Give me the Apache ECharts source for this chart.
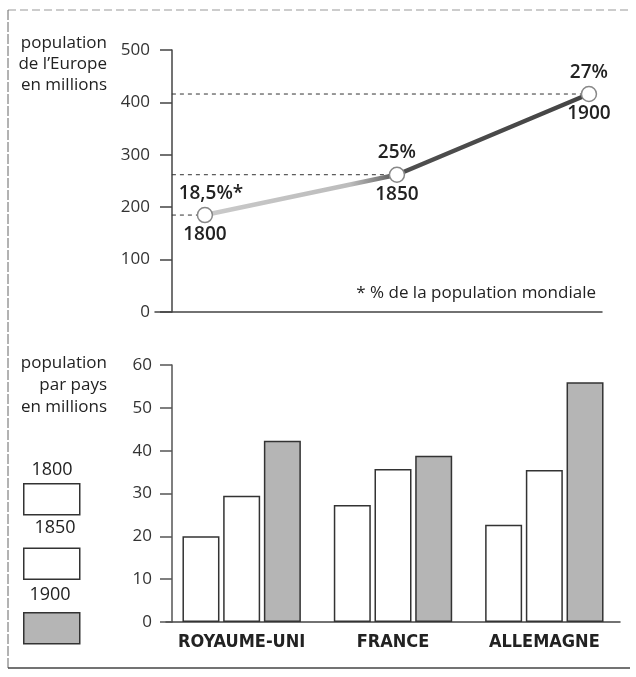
<!DOCTYPE html>
<html>
<head>
<meta charset="utf-8">
<script src="https://cdn.jsdelivr.net/npm/echarts@6/dist/echarts.min.js"></script>
<style>
html,body{margin:0;padding:0;background:#fff;}
#chart{width:636px;height:677px;}
</style>
</head>
<body>
<div id="chart"></div>
<script>
// ---- Data ----
const years = [1800, 1850, 1900];
const europePop = [185, 262, 416];
const worldShare = ['18,5%*', '25%', '27%'];
const countries = ['ROYAUME-UNI', 'FRANCE', 'ALLEMAGNE'];
const pop1800 = [20, 27.3, 22.7];
const pop1850 = [29.5, 35.7, 35.5];
const pop1900 = [42.3, 38.8, 56];
const barYears = ['1800', '1850', '1900'];
const topTicks = [0, 100, 200, 300, 400, 500];
const bottomTicks = [0, 10, 20, 30, 40, 50, 60];

const FONT = '"Open Sans", "Noto Sans", sans-serif';
const NARROW = '"DejaVu Sans Condensed", "Open Sans", sans-serif';

const xMin = 1787, xMax = 1903.4, yAxisYear = 1791.4;

const chart = echarts.init(document.getElementById('chart'));

const dashSeries = years.map((y, i) => ({
  type: 'line', xAxisIndex: 0, yAxisIndex: 0,
  data: [[yAxisYear, europePop[i]], [y, europePop[i]]],
  symbol: 'none', silent: true, z: 1,
  lineStyle: { color: '#333', width: 1, type: [4, 4] }
}));

const barColors = ['#ffffff', '#ffffff', '#b5b5b5'];
const barData = [pop1800, pop1850, pop1900];

const option = {
  animation: false,
  backgroundColor: '#fff',
  grid: [
    { left: 155, right: 34, top: 50, bottom: 365 },
    { left: 166, right: 16, top: 365, bottom: 55 }
  ],
  xAxis: [
    { type: 'value', gridIndex: 0, min: xMin, max: xMax,
      axisLine: { show: true, lineStyle: { color: '#444', width: 1.5 } },
      axisTick: { show: false }, axisLabel: { show: false }, splitLine: { show: false } },
    { type: 'category', gridIndex: 1, data: countries,
      axisLine: { show: true, lineStyle: { color: '#444', width: 1.5 } },
      axisTick: { show: false },
      axisLabel: { interval: 0, fontFamily: NARROW, fontWeight: 'bold', fontSize: 18, color: '#222', margin: 11 },
      splitLine: { show: false } }
  ],
  yAxis: [
    { type: 'value', gridIndex: 0, min: topTicks[0], max: topTicks[topTicks.length - 1], interval: 100,
      offset: -17,
      axisLine: { show: true, lineStyle: { color: '#444', width: 1.5 } },
      axisTick: { show: true, length: 12, lineStyle: { color: '#444', width: 1.5 } },
      axisLabel: { fontFamily: FONT, fontSize: 17, color: '#333', margin: 22 },
      splitLine: { show: false } },
    { type: 'value', gridIndex: 1, min: bottomTicks[0], max: bottomTicks[bottomTicks.length - 1], interval: 10,
      offset: -6,
      axisLine: { show: true, lineStyle: { color: '#555', width: 1.5 } },
      axisTick: { show: true, length: 12, lineStyle: { color: '#555', width: 1.5 } },
      axisLabel: { fontFamily: FONT, fontSize: 17, color: '#333', margin: 20 },
      splitLine: { show: false } }
  ],
  legend: {
    data: barYears, orient: 'vertical', left: 18, top: 478,
    itemWidth: 56, itemHeight: 31, itemGap: 32, icon: 'rect',
    formatter: () => '', selectedMode: false,
    itemStyle: { borderColor: '#333', borderWidth: 1.5 },
    textStyle: { fontSize: 1 }
  },
  series: [
    ...dashSeries,
    {
      type: 'line', xAxisIndex: 0, yAxisIndex: 0, z: 3,
      data: years.map((y, i) => ({
        value: [y, europePop[i]],
        label: { formatter: worldShare[i], offset: i === 0 ? [6, 0] : [0, 0] }
      })),
      symbol: 'circle', symbolSize: 15,
      itemStyle: { color: '#fff', borderColor: '#888', borderWidth: 1.5 },
      lineStyle: {
        width: 4.5,
        color: new echarts.graphic.LinearGradient(0, 0, 1, 0, [
          { offset: 0, color: '#cacaca' },
          { offset: 0.38, color: '#bcbcbc' },
          { offset: 0.46, color: '#7a7a7a' },
          { offset: 0.5, color: '#4f4f4f' },
          { offset: 1, color: '#444' }
        ])
      },
      label: { show: true, position: 'top', distance: 4, fontFamily: FONT, fontSize: 19, fontWeight: 600, color: '#222' }
    },
    {
      type: 'scatter', xAxisIndex: 0, yAxisIndex: 0, z: 4, silent: true,
      data: years.map((y, i) => [y, europePop[i]]),
      symbolSize: 15, itemStyle: { color: 'rgba(255,255,255,0)', borderWidth: 0 },
      emphasis: { disabled: true },
      label: { show: true, position: 'bottom', distance: 3, fontFamily: FONT, fontSize: 19, fontWeight: 600, color: '#222',
        opacity: 1, textBorderWidth: 0, formatter: p => String(p.value[0]) }
    },
    ...barYears.map((name, k) => ({
      type: 'bar', name, xAxisIndex: 1, yAxisIndex: 1,
      data: barData[k], barWidth: 37, barGap: '10%',
      itemStyle: { color: barColors[k], borderColor: '#333', borderWidth: 1.5 }
    }))
  ],
  graphic: [
    { type: 'line', shape: { x1: 8, y1: 10, x2: 630, y2: 10 }, style: { stroke: '#999', lineWidth: 1, lineDash: [8, 4] } },
    { type: 'line', shape: { x1: 8, y1: 10, x2: 8, y2: 668 }, style: { stroke: '#666', lineWidth: 1, lineDash: [10, 2] } },
    { type: 'line', shape: { x1: 8, y1: 668, x2: 630, y2: 668 }, style: { stroke: '#444', lineWidth: 1.5 } },
    { type: 'text', x: 107, y: 33, style: { text: 'population\nde l’Europe\nen millions', align: 'right', verticalAlign: 'top',
        fontFamily: FONT, fontSize: 17, lineHeight: 21, fill: '#222' } },
    { type: 'text', x: 107, y: 352, style: { text: 'population\npar pays\nen millions', align: 'right', verticalAlign: 'top',
        fontFamily: FONT, fontSize: 17, lineHeight: 22, fill: '#222' } },
    { type: 'text', x: 596, y: 293, style: { text: '* % de la population mondiale', align: 'right', verticalAlign: 'middle',
        fontFamily: FONT, fontSize: 17, fill: '#222' } },
    ...barYears.map((t, k) => ({ type: 'text', x: [52, 55, 50][k], y: [470, 528, 595][k],
        style: { text: t, align: 'center', verticalAlign: 'middle', fontFamily: FONT, fontSize: 18, fill: '#222' } }))
  ]
};
chart.setOption(option);
</script>
</body>
</html>
